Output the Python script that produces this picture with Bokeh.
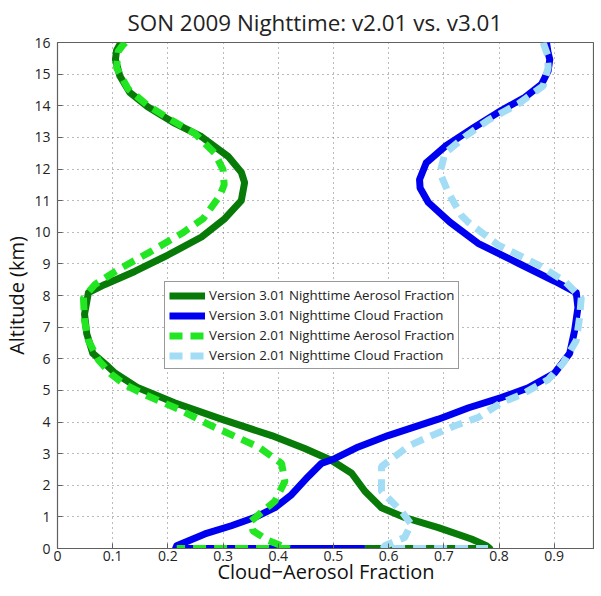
from bokeh.plotting import figure
from bokeh.models import Legend, LegendItem, FixedTicker, Range1d
from bokeh.embed import file_html
from bokeh.resources import INLINE

# Version 3.01 Nighttime Aerosol Fraction
v3_aer_alt = [16.0, 15.75, 15.46, 14.94, 14.42, 13.96, 13.44, 13.02, 12.4, 11.9, 11.57, 11.0,
              10.43, 9.85, 9.28, 8.76, 8.35, 8.09, 7.41, 6.79, 6.17, 5.75, 5.55, 5.08, 4.61,
              4.09, 3.57, 3.16, 2.79, 2.38, 1.81, 1.29, 0.98, 0.66, 0.30, 0.09, 0.0, 0.0]
v3_aer = [0.115, 0.107, 0.105, 0.113, 0.131, 0.164, 0.213, 0.261, 0.309, 0.333, 0.339, 0.333,
          0.303, 0.261, 0.200, 0.140, 0.086, 0.056, 0.049, 0.053, 0.064, 0.092, 0.104, 0.146, 0.212,
          0.297, 0.388, 0.448, 0.496, 0.533, 0.557, 0.587, 0.629, 0.690, 0.750, 0.777, 0.783, 0.557]

# Version 3.01 Nighttime Cloud Fraction
v3_cld_alt = [0.0, 0.0, 0.09, 0.46, 0.72, 0.98, 1.29, 1.70, 2.27, 2.69, 2.84, 3.21, 3.57, 4.09,
              4.45, 4.77, 5.08, 5.55, 6.17, 6.89, 7.62, 8.09, 8.45, 9.02, 9.65, 10.32, 10.94,
              11.4, 11.67, 12.19, 12.71, 13.33, 13.85, 14.27, 14.68, 15.1, 15.46, 15.67, 16.0]
v3_cld = [0.557, 0.214, 0.216, 0.267, 0.315, 0.357, 0.394, 0.424, 0.454, 0.478, 0.502, 0.545,
          0.599, 0.690, 0.745, 0.804, 0.853, 0.901, 0.928, 0.937, 0.943, 0.940, 0.901, 0.835,
          0.762, 0.711, 0.672, 0.657, 0.656, 0.668, 0.702, 0.756, 0.804, 0.847, 0.877, 0.889,
          0.892, 0.889, 0.886]

# Version 2.01 Nighttime Aerosol Fraction
v2_aer_alt = [16.0, 15.93, 15.72, 15.2, 14.53, 14.0, 13.54, 13.12, 12.5, 11.98, 11.5, 11.15,
              10.43, 9.96, 9.34, 8.82, 8.35, 7.93, 7.2, 6.58, 5.96, 5.5, 5.18, 4.82, 4.40, 3.88,
              3.21, 2.69, 2.12, 1.50, 0.87, 0.56, 0.25, 0.09, 0.0, 0.0]
v2_aer = [0.123, 0.119, 0.110, 0.107, 0.128, 0.164, 0.207, 0.249, 0.285, 0.300, 0.302, 0.294,
          0.264, 0.225, 0.164, 0.110, 0.068, 0.047, 0.049, 0.056, 0.074, 0.098, 0.122, 0.164,
          0.220, 0.279, 0.364, 0.406, 0.412, 0.394, 0.351, 0.354, 0.382, 0.406, 0.420, 0.216]

# Version 2.01 Nighttime Cloud Fraction
v2_cld_alt = [16.0, 15.6, 15.2, 14.63, 14.06, 13.54, 13.02, 12.5, 11.88, 11.26, 10.53, 10.32,
              9.6, 8.97, 8.45, 7.93, 7.31, 6.58, 5.86, 5.34, 4.87, 4.61, 4.14, 3.88, 3.57, 3.26,
              2.59, 1.81, 1.18, 0.77, 0.35, 0.09, 0.0, 0.0]
v2_cld = [0.880, 0.888, 0.889, 0.880, 0.835, 0.780, 0.738, 0.702, 0.693, 0.708, 0.732, 0.744,
          0.798, 0.871, 0.919, 0.949, 0.946, 0.940, 0.916, 0.889, 0.841, 0.804, 0.762, 0.720,
          0.678, 0.638, 0.587, 0.587, 0.623, 0.641, 0.629, 0.593, 0.590, 0.780]

x_tick_vals = [0, 0.1, 0.2, 0.3, 0.4, 0.5, 0.6, 0.7, 0.8, 0.9]
x_tick_labels = ["0", "0.1", "0.2", "0.3", "0.4", "0.5", "0.6", "0.7", "0.8", "0.9"]
y_tick_vals = list(range(0, 17))

FONT = "Open Sans"
AX = "#606060"

p = figure(frame_width=537, frame_height=506, output_backend="svg", toolbar_location=None,
           x_range=Range1d(0, 0.973), y_range=Range1d(0, 16),
           min_border_left=0, min_border_right=0, min_border_top=0, min_border_bottom=0)

p.title.text = "SON 2009 Nighttime: v2.01 vs. v3.01"
p.title.align = "left"
p.title.offset = 70
p.title.text_font = FONT
p.title.text_font_size = "22.4px"
p.title.text_font_style = "normal"
p.title.text_color = "#222222"
p.title.standoff = 9

p.outline_line_color = AX
p.outline_line_width = 1.2
p.background_fill_color = "white"
p.border_fill_color = "white"

for g in (p.xgrid, p.ygrid):
    g.grid_line_color = "#777777"
    g.grid_line_dash = "1 4"
    g.grid_line_width = 1
p.xgrid.ticker = FixedTicker(ticks=x_tick_vals)
p.ygrid.ticker = FixedTicker(ticks=y_tick_vals)

xa = p.xaxis[0]
xa.ticker = FixedTicker(ticks=x_tick_vals)
xa.major_label_overrides = {v: s for v, s in zip(x_tick_vals, x_tick_labels)}
ya = p.yaxis[0]
ya.ticker = FixedTicker(ticks=y_tick_vals)

for a in (xa, ya):
    a.axis_line_color = AX
    a.major_tick_line_color = AX
    a.major_tick_in = 5
    a.major_tick_out = 0
    a.minor_tick_line_color = None
    a.major_label_text_font = FONT
    a.major_label_text_font_size = "14px"
    a.major_label_text_color = "#222222"
    a.axis_label_text_font = FONT
    a.axis_label_text_font_size = "20px"
    a.axis_label_text_font_style = "normal"
    a.axis_label_text_color = "#111111"

xa.axis_label = "Cloud\u2212Aerosol Fraction"
xa.major_label_standoff = 2
xa.axis_label_standoff = -6
ya.axis_label = "Altitude (km)"
ya.major_label_standoff = 7
ya.axis_label_standoff = 1

lw = 7
r1 = p.line(v3_aer, v3_aer_alt, line_color="#087a08", line_width=lw, line_join="round")
r2 = p.line(v3_cld, v3_cld_alt, line_color="#0000f0", line_width=lw, line_join="round")
r3 = p.line(v2_aer, v2_aer_alt, line_color="#22e622", line_width=lw, line_dash="13 8")
r4 = p.line(v2_cld, v2_cld_alt, line_color="#a3dcf5", line_width=lw, line_dash="13 8")

legend = Legend(items=[
    LegendItem(label="Version 3.01 Nighttime Aerosol Fraction", renderers=[r1]),
    LegendItem(label="Version 3.01 Nighttime Cloud Fraction", renderers=[r2]),
    LegendItem(label="Version 2.01 Nighttime Aerosol Fraction", renderers=[r3]),
    LegendItem(label="Version 2.01 Nighttime Cloud Fraction", renderers=[r4]),
], location=(107, 179))
legend.border_line_color = "#333333"
legend.border_line_width = 1
legend.background_fill_color = "white"
legend.background_fill_alpha = 1
legend.label_text_font = FONT
legend.label_text_font_size = "13.3px"
legend.label_text_color = "#222222"
legend.glyph_width = 36
legend.glyph_height = 15
legend.label_height = 15
legend.label_standoff = 4
legend.spacing = 2
legend.padding = 4
legend.margin = 0
p.add_layout(legend)

open("out.html", "w").write(file_html(p, INLINE))
